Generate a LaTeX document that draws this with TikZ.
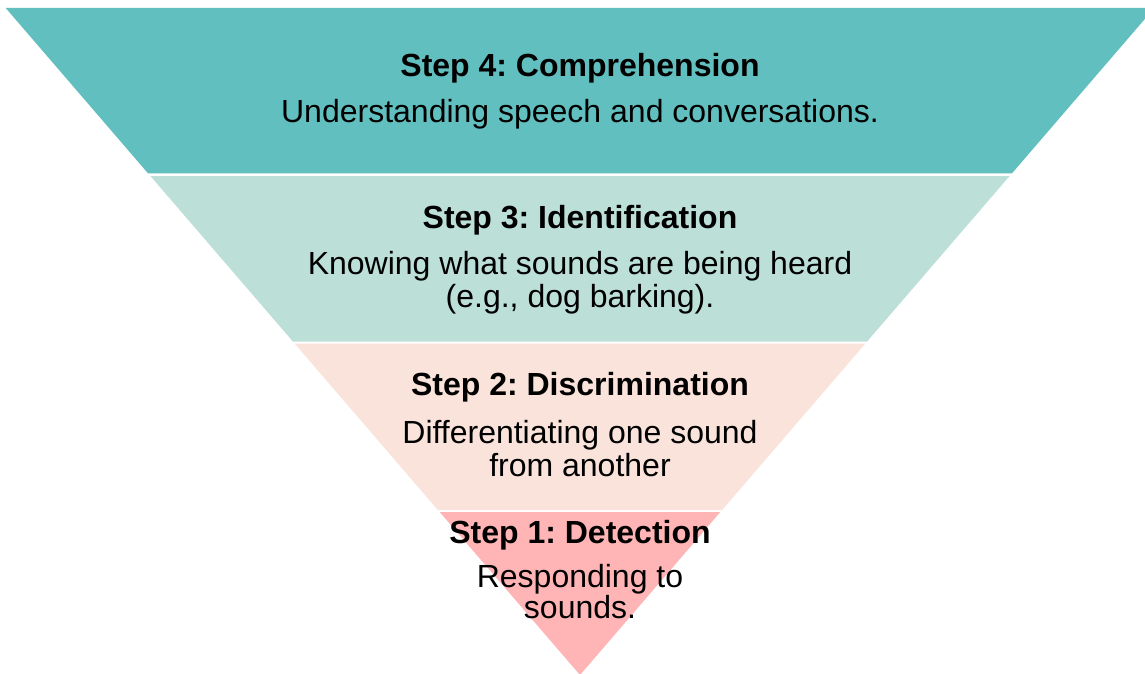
\documentclass[tikz,border=0pt]{standalone}
\usepackage{fontspec}
\setmainfont{Liberation Sans}
\frenchspacing
\definecolor{bandfour}{HTML}{62BFBF}
\definecolor{bandthree}{HTML}{BCE0D8}
\definecolor{bandtwo}{HTML}{FAE3DA}
\definecolor{bandone}{HTML}{FFB5B5}
\begin{document}
\begin{tikzpicture}[x=1pt,y=-1pt,
  steptitle/.style={font=\fontsize{32}{35}\selectfont\bfseries, anchor=base, inner sep=0pt},
  stepdesc/.style={font=\fontsize{32}{35}\selectfont, anchor=base, inner sep=0pt}]
\clip (0,0) rectangle (1145,674);
\fill[white] (0,0) rectangle (1145,674);
% bands
\fill[bandfour]  (5.7,8) -- (1154.3,8) -- (1012,173.3) -- (148,173.3) -- cycle;
\fill[bandthree] (150.4,176) -- (1009.6,176) -- (867.1,341.5) -- (292.9,341.5) -- cycle;
\fill[bandtwo]   (294.6,343.5) -- (865.4,343.5) -- (722.1,510) -- (437.9,510) -- cycle;
\fill[bandone]   (439.7,512) -- (720.3,512) -- (580,675) -- cycle;
% texts
\node[steptitle] (t4) at (580,77) {\frenchspacing Step 4: Comprehension};
\node[stepdesc]  (d4) at (580,123) {Understanding speech and conversations.};
\node[steptitle] (t3) at (580,228) {\frenchspacing Step 3: Identification};
\node[stepdesc]  (d3a) at (580,274) {Knowing what sounds are being heard};
\node[stepdesc]  (d3b) at (580,307) {(e.g., dog barking).};
\node[steptitle] (t2) at (580,395) {\frenchspacing Step 2: Discrimination};
\node[stepdesc]  (d2a) at (580,443) {Differentiating one sound};
\node[stepdesc]  (d2b) at (580,476) {from another};
\node[steptitle] (t1) at (580,543) {\frenchspacing Step 1: Detection};
\node[stepdesc]  (d1a) at (580,587) {Responding to};
\node[stepdesc]  (d1b) at (580,618) {sounds.};
\end{tikzpicture}
\end{document}
